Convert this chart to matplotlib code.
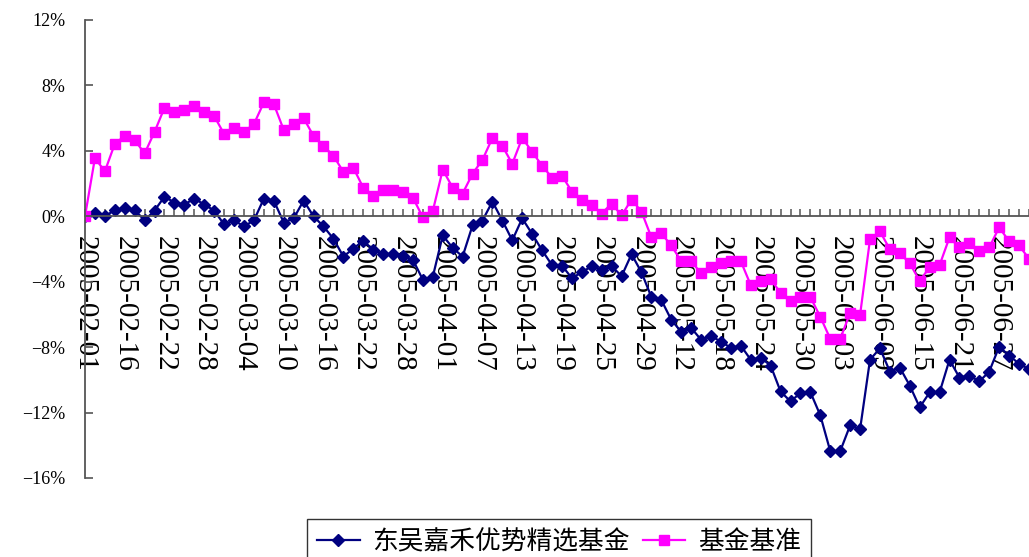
import matplotlib
matplotlib.use("Agg")
import matplotlib.pyplot as plt
from matplotlib.ticker import PercentFormatter, MultipleLocator

# labels shown on the category axis (one every 4 trading days)
datoEtiketter = ["2005-02-01", "2005-02-16", "2005-02-22", "2005-02-28",
                 "2005-03-04", "2005-03-10", "2005-03-16", "2005-03-22",
                 "2005-03-28", "2005-04-01", "2005-04-07", "2005-04-13",
                 "2005-04-19", "2005-04-25", "2005-04-29", "2005-05-12",
                 "2005-05-18", "2005-05-24", "2005-05-30", "2005-06-03",
                 "2005-06-09", "2005-06-15", "2005-06-21", "2005-06-27"]

# 东吴嘉禾优势精选基金 (%)
fond = [0.0, 0.23, 0.0, 0.38, 0.50, 0.38, -0.25, 0.35, 1.20, 0.84,
        0.72, 1.08, 0.72, 0.35, -0.50, -0.25, -0.62, -0.25, 1.08, 0.96,
        -0.38, -0.13, 0.96, 0.0, -0.62, -1.37, -2.46, -1.98, -1.49, -2.05,
        -2.30, -2.30, -2.42, -2.66, -3.88, -3.70, -1.17, -1.93, -2.46, -0.56,
        -0.26, 0.90, -0.26, -1.47, -0.13, -1.08, -2.08, -2.99, -3.02, -3.78,
        -3.42, -3.05, -3.30, -3.05, -3.66, -2.32, -3.42, -4.94, -5.12, -6.33,
        -7.06, -6.82, -7.55, -7.31, -7.67, -8.04, -7.91, -8.77, -8.64, -9.13,
        -10.71, -11.32, -10.80, -10.75, -12.17, -14.36, -14.36, -12.78, -13.02, -8.77,
        -8.07, -9.49, -9.25, -10.35, -11.68, -10.77, -10.77, -8.77, -9.86, -9.74,
        -10.10, -9.49, -7.97, -8.52, -9.01, -9.35]

# 基金基准 (%)
basis = [0.0, 3.56, 2.75, 4.43, 4.91, 4.67, 3.84, 5.16, 6.64, 6.37,
         6.49, 6.74, 6.37, 6.13, 5.03, 5.40, 5.16, 5.64, 6.96, 6.86,
         5.28, 5.64, 6.00, 4.91, 4.30, 3.70, 2.72, 2.97, 1.75, 1.26,
         1.63, 1.63, 1.51, 1.14, -0.07, 0.32, 2.85, 1.75, 1.39, 2.60,
         3.45, 4.79, 4.30, 3.21, 4.79, 3.94, 3.09, 2.36, 2.48, 1.51,
         1.02, 0.66, 0.17, 0.78, 0.05, 1.02, 0.29, -1.29, -1.05, -1.78,
         -2.75, -2.75, -3.48, -3.11, -2.87, -2.75, -2.75, -4.21, -3.96, -3.84,
         -4.69, -5.18, -4.94, -4.94, -6.15, -7.49, -7.49, -5.91, -6.03, -1.41,
         -0.92, -2.02, -2.26, -2.87, -3.96, -3.11, -2.99, -1.29, -1.90, -1.65,
         -2.14, -1.90, -0.68, -1.53, -1.78, -2.60]

navn = ["东吴嘉禾优势精选基金", "基金基准"]


def tegnGraf():
    fig = plt.figure(figsize=(10.29, 5.57), dpi=100)
    ax = fig.add_axes([85 / 1029, 79 / 557, 944 / 1029, 458 / 557])

    x = list(range(len(fond)))
    ax.plot(x, fond, color="#000080", lw=1.6, marker="D", ms=6.5, label=navn[0])
    ax.plot(x, basis, color="#FF00FF", lw=1.6, marker="s", ms=6.5, label=navn[1])

    ax.set_xlim(0, 944 / 9.97)
    ax.set_ylim(-16, 12)

    for s in ["top", "right"]:
        ax.spines[s].set_visible(False)
    ax.spines["bottom"].set_position(("data", 0))
    for s in ["bottom", "left"]:
        ax.spines[s].set_color("#555555")
        ax.spines[s].set_linewidth(1.3)

    ax.yaxis.set_major_locator(MultipleLocator(4))
    ax.yaxis.set_major_formatter(PercentFormatter(decimals=0))
    ax.tick_params(axis="y", direction="in", length=6, width=1.2,
                   color="#555555", pad=14, labelsize=13)

    ax.set_xticks(range(0, 4 * len(datoEtiketter), 4))
    ax.set_xticklabels(datoEtiketter, rotation=270, ha="center", va="top")
    ax.set_xticks(range(len(fond)), minor=True)
    ax.tick_params(axis="x", which="both", direction="in", length=5,
                   width=1.1, color="#555555", pad=14, labelsize=21)

    for lab in ax.get_xticklabels() + ax.get_yticklabels():
        lab.set_fontfamily(["Liberation Serif", "DejaVu Serif"])

    leg = fig.legend(loc="upper left", bbox_to_anchor=(307 / 1029, 1 - 519 / 557),
                     ncol=2, frameon=True, fancybox=False, edgecolor="black",
                     prop={"family": ["Noto Sans CJK SC", "DejaVu Sans"], "size": 18.5},
                     handlelength=1.65, handletextpad=0.5, columnspacing=0.5,
                     borderpad=0.4, borderaxespad=0)
    leg.get_frame().set_linewidth(1.0)

    fig.savefig("out.png", dpi=100)


tegnGraf()
